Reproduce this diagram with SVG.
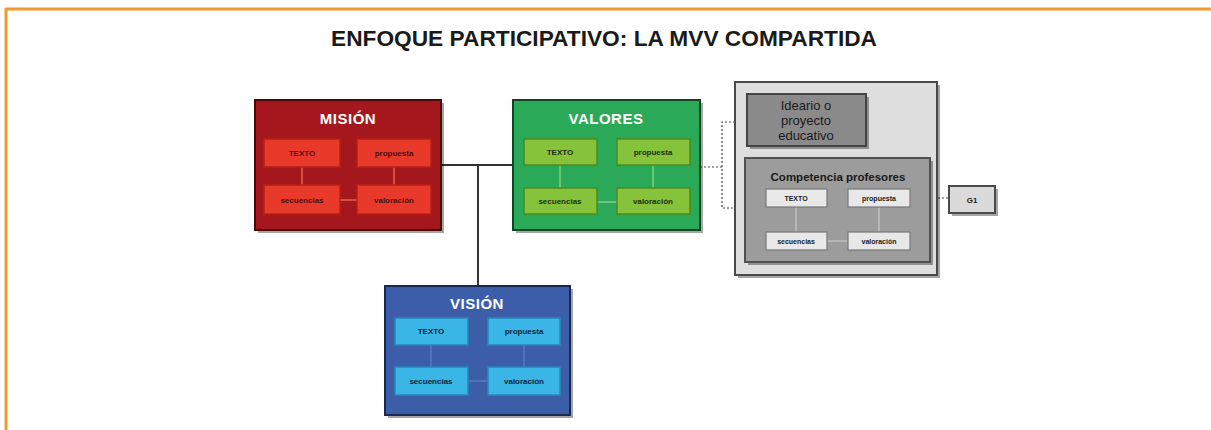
<svg xmlns="http://www.w3.org/2000/svg" width="1211" height="430" viewBox="0 0 1211 430">
<style>
.t{font-family:"Liberation Sans",Arial,sans-serif;font-weight:bold;text-anchor:middle}
.title{font-size:22px;fill:#1a1a1a}
.head{font-size:15px;fill:#ffffff;letter-spacing:0.5px}
.sub{font-size:8px}
.shadow{fill:#000;opacity:0.35}
.inner{stroke-width:1.2;fill:none}
.dot{stroke:#444;stroke-width:1.2;stroke-dasharray:2,2;fill:none}
.solid{stroke:#333;stroke-width:2;fill:none}
</style>
<rect x="0" y="0" width="1211" height="430" fill="#ffffff"/>
<g id="frame">
<line x1="5" y1="9" x2="1211" y2="9" stroke="#f39a2e" stroke-width="3"/>
<line x1="6" y1="8" x2="6" y2="430" stroke="#f39a2e" stroke-width="3"/>
</g>
<text class="t title" x="604" y="46" textLength="546" lengthAdjust="spacingAndGlyphs">ENFOQUE PARTICIPATIVO: LA MVV COMPARTIDA</text>

<g id="connectors">
<line class="solid" x1="441" y1="165" x2="513" y2="165"/>
<line class="solid" x1="478" y1="165" x2="478" y2="286"/>
<polyline class="dot" points="700,167 722,167"/>
<polyline class="dot" points="747,122 722,122 722,208 745,208"/>
<line class="dot" x1="910" y1="198" x2="949" y2="198"/>
</g>

<g id="mision">
<rect class="shadow" x="258" y="103" width="186" height="130"/>
<rect x="255" y="100" width="186" height="130" fill="#a3171d" stroke="#4a0808" stroke-width="2"/>
<text class="t head" x="348" y="124">MISIÓN</text>
<g stroke="#f07a55" class="inner">
<line x1="302" y1="167" x2="302" y2="185"/>
<line x1="394" y1="167" x2="394" y2="185"/>
<line x1="340" y1="200" x2="357" y2="200"/>
</g>
<g fill="#e8392a" stroke="#b52314" stroke-width="1.5">
<rect x="264" y="139" width="76" height="28"/>
<rect x="357" y="139" width="74" height="28"/>
<rect x="264" y="185" width="76" height="29"/>
<rect x="357" y="185" width="74" height="29"/>
</g>
<g fill="#4a1010" class="t sub">
<text x="302" y="156">TEXTO</text>
<text x="394" y="156">propuesta</text>
<text x="302" y="203">secuencias</text>
<text x="394" y="203">valoración</text>
</g>
</g>

<g id="valores">
<rect class="shadow" x="516" y="103" width="187" height="130"/>
<rect x="513" y="100" width="187" height="130" fill="#2aaa58" stroke="#0d4424" stroke-width="2"/>
<text class="t head" x="606" y="124">VALORES</text>
<g stroke="#9ad88a" class="inner">
<line x1="560" y1="165" x2="560" y2="188"/>
<line x1="653" y1="165" x2="653" y2="188"/>
<line x1="597" y1="202" x2="617" y2="202"/>
</g>
<g fill="#86c23a" stroke="#4e8a1e" stroke-width="1.5">
<rect x="524" y="139" width="73" height="26"/>
<rect x="617" y="139" width="73" height="26"/>
<rect x="524" y="188" width="73" height="26"/>
<rect x="617" y="188" width="73" height="26"/>
</g>
<g fill="#1c3010" class="t sub">
<text x="560" y="155">TEXTO</text>
<text x="653" y="155">propuesta</text>
<text x="560" y="204">secuencias</text>
<text x="653" y="204">valoración</text>
</g>
</g>

<g id="vision">
<rect class="shadow" x="388" y="289" width="185" height="129"/>
<rect x="385" y="286" width="185" height="129" fill="#3c5ea8" stroke="#18284f" stroke-width="2"/>
<text class="t head" x="477" y="309">VISIÓN</text>
<g stroke="#5a80c8" class="inner">
<line x1="431" y1="345" x2="431" y2="367"/>
<line x1="524" y1="345" x2="524" y2="367"/>
<line x1="468" y1="381" x2="488" y2="381"/>
</g>
<g fill="#3ab6e6" stroke="#2a86b8" stroke-width="1.5">
<rect x="395" y="318" width="73" height="27"/>
<rect x="488" y="318" width="72" height="27"/>
<rect x="395" y="367" width="73" height="28"/>
<rect x="488" y="367" width="72" height="28"/>
</g>
<g fill="#0a2438" class="t sub">
<text x="431" y="334">TEXTO</text>
<text x="524" y="334">propuesta</text>
<text x="431" y="384">secuencias</text>
<text x="524" y="384">valoración</text>
</g>
</g>

<g id="contexto">
<rect class="shadow" x="738" y="85" width="202" height="193"/>
<rect x="735" y="82" width="202" height="193" fill="#dedede" stroke="#4a4a4a" stroke-width="2"/>
</g>

<g id="ideario">
<rect class="shadow" x="750" y="97" width="119" height="52"/>
<rect x="747" y="94" width="119" height="52" fill="#8a8a8a" stroke="#444" stroke-width="2"/>
<g class="t" font-size="13" fill="#1a1a1a" style="font-weight:normal">
<text x="806" y="110">Ideario o</text>
<text x="806" y="125">proyecto</text>
<text x="806" y="140">educativo</text>
</g>
</g>

<g id="competencia">
<rect class="shadow" x="748" y="161" width="185" height="104"/>
<rect x="745" y="158" width="185" height="104" fill="#9c9c9c" stroke="#505050" stroke-width="2"/>
<text class="t" x="838" y="181" font-size="11.5" fill="#1a1a1a">Competencia profesores</text>
<g stroke="#c8c8c8" class="inner">
<line x1="796" y1="207" x2="796" y2="232"/>
<line x1="879" y1="207" x2="879" y2="232"/>
<line x1="827" y1="241" x2="848" y2="241"/>
</g>
<g fill="#e8e8e8" stroke="#777" stroke-width="1.2">
<rect x="766" y="189" width="61" height="18"/>
<rect x="848" y="189" width="62" height="18"/>
<rect x="766" y="232" width="61" height="18"/>
<rect x="848" y="232" width="62" height="18"/>
</g>
<g fill="#1a1a1a" class="t" font-size="7">
<text x="796" y="201">TEXTO</text>
<text x="879" y="201">propuesta</text>
<text x="796" y="244">secuencias</text>
<text x="879" y="244">valoración</text>
</g>
</g>

<g id="g1">
<rect class="shadow" x="952" y="189" width="46" height="27"/>
<rect x="949" y="186" width="46" height="27" fill="#dadada" stroke="#4a4a4a" stroke-width="2"/>
<text class="t" x="972" y="203" font-size="8" fill="#1a1a1a">G1</text>
</g>
</svg>
